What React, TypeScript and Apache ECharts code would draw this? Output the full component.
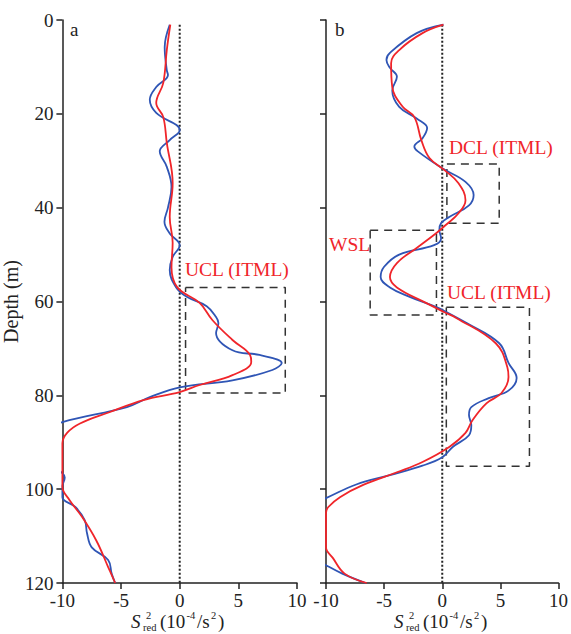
import React, { useEffect, useRef } from "react";
import * as echarts from "echarts";

// Panel a
const blueADepth = [1, 5.8, 10.7, 11.7, 14.3, 17, 19.8, 23.5, 25.6, 28, 31.3, 35.6, 40, 43, 45.5, 48, 50.5, 53.3, 57, 59, 61, 63.3, 64.6, 66.7, 70.4, 71.4, 73.1, 74.6, 76.8, 78.3, 80.4, 82.5, 85.7, 88, 92, 96.6, 97.5, 99.5, 101.7, 103.8, 106.6, 109.4, 112.4, 115.1, 118, 120];
const blueAVal = [-0.85, -1.28, -1.1, -1.0, -2.0, -2.55, -2.0, 0, -0.85, -1.7, -1.1, -0.7, -1.0, -1.3, -0.85, 0, -0.6, -0.85, -0.3, 0.6, 2.3, 3.1, 3.3, 3.1, 4.5, 6.8, 8.7, 7.9, 4.5, 0, -2.55, -4.5, -10, -12, -12, -10, -9.8, -10, -10, -8.9, -8.1, -7.9, -7.5, -6.1, -5.8, -5.5];
const redADepth = [1, 6.4, 13.4, 17.7, 20.7, 26.2, 34.8, 42, 47.5, 52.7, 57, 60.3, 64, 68.2, 71.4, 72.9, 75.7, 77.8, 79.3, 81, 83.6, 86, 88, 90.2, 95, 99.5, 102.3, 106, 111, 116.6, 120];
const redAVal = [-0.8, -1.1, -1.4, -2.0, -1.4, -1.1, -0.6, -0.85, -0.6, -0.7, -0.2, 1.7, 2.8, 4.5, 6.0, 6.1, 4.5, 1.7, 0, -3.1, -6, -8.5, -9.6, -10, -10, -10, -9.4, -8.3, -7.1, -6.1, -5.5];

// Panel b
const blueBDepth = [1, 2.8, 7, 8.5, 10.2, 12.1, 15, 18.5, 21, 23, 25.2, 27, 28, 31.6, 34.5, 37.3, 39.5, 42, 43.3, 44.8, 46.5, 48, 50, 52.6, 54.8, 57, 59, 61.2, 62.3, 64.6, 68.9, 73.1, 76.3, 79, 80.6, 82.5, 84.2, 86.4, 88.5, 91, 93.2, 95, 97, 99, 101.9, 105, 112, 116.2, 118, 120];
const blueBVal = [0.1, -2.2, -4.5, -4.8, -4.5, -3.9, -4.3, -3.7, -2.2, -1.3, -1.7, -2.4, -2.1, 0, 2.0, 2.7, 2.3, 0.6, -0.1, -0.25, -0.1, -0.7, -3.7, -5.0, -5.3, -4.5, -2.8, -0.5, 0.4, 2.1, 4.9, 5.7, 6.4, 5.7, 4.0, 2.5, 2.3, 2.5, 2.3, 0.9, 0, -1.7, -4.5, -7.4, -10, -13, -13, -10, -8.6, -6.6];
const redBDepth = [1, 2.8, 6.4, 9.2, 14.3, 18.5, 20.7, 25.6, 29.4, 32, 34.8, 38.4, 41.2, 43.7, 45.4, 48.6, 51.8, 54.8, 57, 60.3, 62.3, 63.5, 68.9, 74, 76.1, 79.5, 81.7, 85.3, 88, 91, 94.2, 96.4, 99.1, 101.7, 103.8, 105, 112.4, 114.7, 118, 120];
const redBVal = [0.1, -1.7, -3.7, -4.4, -4.3, -3.4, -2.4, -1.8, -1.1, 0.2, 1.4, 2.0, 1.4, 0.3, -0.5, -2.2, -3.9, -4.5, -3.9, -1.4, 0.2, 1.2, 4.6, 5.6, 5.7, 5.1, 3.8, 2.6, 2.0, 0.6, -1.7, -3.9, -6.8, -8.8, -9.8, -10, -10, -9.4, -8.4, -6.5];

// Dashed boxes: [xMin, xMax, depthTop, depthBottom]
const boxesA = [[0.5, 9.0, 57, 79.5]];
const boxesB = [
  [0.4, 4.9, 30.7, 43.3],
  [-6.2, -0.5, 44.8, 62.9],
  [0.35, 7.5, 61.2, 95.1],
];

const xTicks = { min: -10, max: 10, interval: 5 };
const yTicks = { min: 0, max: 120, interval: 20 };
const zeroLine = [[0, 1], [0, 120]];

const FONT = "'Liberation Serif', 'Times New Roman', Times, serif";
const BLUE = "#2f55b5";
const RED = "#f0252a";
const AXIS = "#222";

function pairs(vals: number[], depths: number[]) {
  return depths.map((d, i) => [vals[i], d]);
}
function boxPath(b: number[]) {
  const [x0, x1, y0, y1] = b;
  return [[x0, y0], [x1, y0], [x1, y1], [x0, y1], [x0, y0]];
}

function xTitle(cx: number) {
  const o = cx - 181;
  const base = { fill: "#222", fontFamily: FONT, verticalAlign: "middle", align: "left" };
  const big = 19, small = 10.5;
  return [
    { type: "text", x: 131 + o, y: 621, style: { ...base, text: "S", fontSize: big, fontStyle: "italic" } },
    { type: "text", x: 146 + o, y: 615, style: { ...base, text: "2", fontSize: small } },
    { type: "text", x: 143 + o, y: 627.5, style: { ...base, text: "red", fontSize: small } },
    { type: "text", x: 160 + o, y: 621, style: { ...base, text: "(10", fontSize: big } },
    { type: "text", x: 186.5 + o, y: 615.5, style: { ...base, text: "-4", fontSize: small } },
    { type: "text", x: 197 + o, y: 621, style: { ...base, text: "/s", fontSize: big } },
    { type: "text", x: 211 + o, y: 615, style: { ...base, text: "2", fontSize: small } },
    { type: "text", x: 218 + o, y: 621, style: { ...base, text: ")", fontSize: big } },
  ];
}

export default function App() {
  const ref = useRef<HTMLDivElement>(null);
  useEffect(() => {
    if (!ref.current) return;
    const chart = echarts.init(ref.current, undefined, { renderer: "svg" });
    const axisLine = { show: true, onZero: false, lineStyle: { color: AXIS, width: 1.5 } };
    const axisTick = { show: true, length: 6, lineStyle: { color: AXIS, width: 1.5 } };
    const label = { fontFamily: FONT, fontSize: 19, color: AXIS };
    const xAxis = [0, 1].map((i) => ({
      gridIndex: i,
      type: "value",
      position: "bottom",
      ...xTicks,
      axisLine,
      axisTick,
      axisLabel: { ...label, margin: 8 },
      splitLine: { show: false },
    }));
    const yAxis = [0, 1].map((i) => ({
      gridIndex: i,
      type: "value",
      inverse: true,
      position: "left",
      ...yTicks,
      axisLine,
      axisTick,
      axisLabel: { ...label, margin: 9, show: i === 0 },
      splitLine: { show: false },
      name: i === 0 ? "Depth (m)" : "",
      nameLocation: "middle",
      nameGap: 38,
      nameTextStyle: { fontFamily: FONT, fontSize: 20, color: AXIS },
    }));
    const curve = (idx: number, data: number[][], color: string) => ({
      type: "line",
      xAxisIndex: idx,
      yAxisIndex: idx,
      data,
      smooth: 0.4,
      symbol: "none",
      clip: true,
      lineStyle: { color, width: 1.8 },
      silent: true,
    });
    const dashed = (idx: number, b: number[]) => ({
      type: "line",
      xAxisIndex: idx,
      yAxisIndex: idx,
      data: boxPath(b),
      symbol: "none",
      lineStyle: { color: "#333", width: 1.5, type: [8, 6] },
      silent: true,
    });
    const zero = (idx: number) => ({
      type: "line",
      xAxisIndex: idx,
      yAxisIndex: idx,
      data: zeroLine,
      symbol: "none",
      lineStyle: { color: "#222", width: 2, type: [2, 2] },
      silent: true,
    });
    const redText = (x: number, y: number, text: string) => ({
      type: "text",
      x,
      y,
      style: { text, fill: RED, fontFamily: FONT, fontSize: 19.5, verticalAlign: "middle", align: "left" },
    });
    chart.setOption({
      animation: false,
      grid: [
        { left: 62, top: 20, width: 235, height: 563 },
        { left: 326, top: 20, width: 234, height: 563 },
      ],
      xAxis,
      yAxis,
      series: [
        zero(0),
        zero(1),
        ...boxesA.map((b) => dashed(0, b)),
        ...boxesB.map((b) => dashed(1, b)),
        curve(0, pairs(blueAVal, blueADepth), BLUE),
        curve(0, pairs(redAVal, redADepth), RED),
        curve(1, pairs(blueBVal, blueBDepth), BLUE),
        curve(1, pairs(redBVal, redBDepth), RED),
      ],
      graphic: [
        { type: "text", x: 70, y: 29, style: { text: "a", fill: "#222", fontFamily: FONT, fontSize: 19, verticalAlign: "middle" } },
        { type: "text", x: 335, y: 29, style: { text: "b", fill: "#222", fontFamily: FONT, fontSize: 19, verticalAlign: "middle" } },
        redText(185, 269, "UCL (ITML)"),
        redText(449, 147, "DCL (ITML)"),
        redText(329, 244, "WSL"),
        redText(447, 292, "UCL (ITML)"),
        ...xTitle(181),
        ...xTitle(444),
      ],
    });
    return () => chart.dispose();
  }, []);
  return (
    <div
      ref={ref}
      style={{ position: "fixed", left: 0, top: 0, width: 571, height: 634, background: "#fff" }}
    />
  );
}
